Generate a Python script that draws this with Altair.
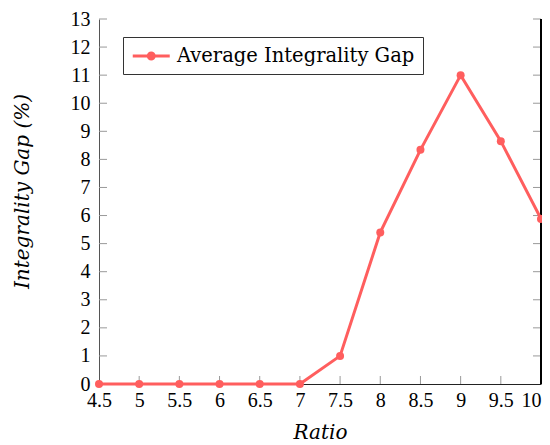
import altair as alt
import pandas as pd

ratio = [4.5, 5, 5.5, 6, 6.5, 7, 7.5, 8, 8.5, 9, 9.5, 10]
gap = [0, 0, 0, 0, 0, 0, 1.0, 5.4, 8.34, 11.0, 8.65, 5.88]
x_ticks = [4.5, 5, 5.5, 6, 6.5, 7, 7.5, 8, 8.5, 9, 9.5, 10]
y_ticks = list(range(0, 14))
series_name = "Average Integrality Gap"

W, H = 442, 365
FONT = "Liberation Serif"
TFONT = "DejaVu Serif"
RED = "#ff5e5e"
TICK = "#999999"
TL = 8

df = pd.DataFrame({"ratio": ratio, "gap": gap, "series": series_name})
xt = pd.DataFrame({"ratio": x_ticks[1:-1]})
yt = pd.DataFrame({"gap": y_ticks[1:]})

xs = alt.Scale(domain=[4.5, 10], nice=False, zero=False)
ys = alt.Scale(domain=[0, 13], nice=False)

x_axis = alt.Axis(values=x_ticks, format="~g", title="Ratio", ticks=False,
                  labelFont=FONT, labelFontSize=20, labelColor="black", labelPadding=6,
                  labelAlign={"condition": {"test": "datum.value >= 10", "value": "right"},
                              "value": "center"},
                  titleFont=TFONT, titleFontSize=20, titleFontStyle="italic",
                  titleFontWeight="normal", titleColor="black",
                  titleX=221, titleY=54, titleBaseline="alphabetic", titleAlign="center",
                  domainColor="#222222", domainWidth=1, grid=False, zindex=0,
                  labelFlush=False, labelOverlap=False)
y_axis = alt.Axis(values=y_ticks, format="d", title="Integrality Gap (%)", ticks=False,
                  labelFont=FONT, labelFontSize=20, labelColor="black", labelPadding=9,
                  titleFont=TFONT, titleFontSize=20, titleFontStyle="italic",
                  titleFontWeight="normal", titleColor="black",
                  titleX=-67, titleY=172, titleBaseline="bottom", titleAlign="center",
                  titleAngle=270,
                  domainColor="#555555", domainWidth=1, grid=False, zindex=0,
                  labelFlush=False, labelOverlap=False)

legend = alt.Legend(
    title=None, orient="none", legendX=24, legendY=18,
    symbolType="M-1,0L3,0M0.68,0a0.32,0.32 0 1,0 0.64,0a0.32,0.32 0 1,0 -0.64,0",
    symbolSize=342, symbolStrokeWidth=3, symbolStrokeColor=RED, symbolFillColor=RED,
    labelFont=TFONT, labelFontSize=19.5, labelColor="black", labelOffset=24,
    padding=8, strokeColor="#333333", fillColor="white", cornerRadius=0,
    labelLimit=400)

line = alt.Chart(df).mark_line(
    strokeWidth=3,
    point=alt.OverlayMarkDef(size=64, filled=True, opacity=1)
).encode(
    x=alt.X("ratio:Q", scale=xs, axis=x_axis),
    y=alt.Y("gap:Q", scale=ys, axis=y_axis),
    color=alt.Color("series:N", scale=alt.Scale(range=[RED]), legend=legend),
)

xtick_layer = alt.Chart(xt).mark_rule(color=TICK, strokeWidth=1).encode(
    x=alt.X("ratio:Q", scale=xs, axis=x_axis),
    y=alt.value(H - TL), y2=alt.value(H))
ytick_left = alt.Chart(yt).mark_rule(color=TICK, strokeWidth=1).encode(
    y=alt.Y("gap:Q", scale=ys, axis=y_axis),
    x=alt.value(0), x2=alt.value(TL))
ytick_right = alt.Chart(yt).mark_rule(color=TICK, strokeWidth=1).encode(
    y=alt.Y("gap:Q", scale=ys, axis=y_axis),
    x=alt.value(W - TL), x2=alt.value(W))
right_border = alt.Chart(yt).mark_rule(color="black", strokeWidth=1).encode(
    x=alt.value(W), y=alt.value(0), y2=alt.value(H))

chart = alt.layer(xtick_layer, ytick_left, ytick_right, right_border, line).properties(
    width=W, height=H,
    background="white",
    autosize=alt.AutoSizeParams(type="none"),
    padding={"left": 91, "top": 11, "right": 1, "bottom": 61},
).configure_view(strokeWidth=0)

chart.save("out.html", embed_options={"renderer": "svg", "actions": False})
